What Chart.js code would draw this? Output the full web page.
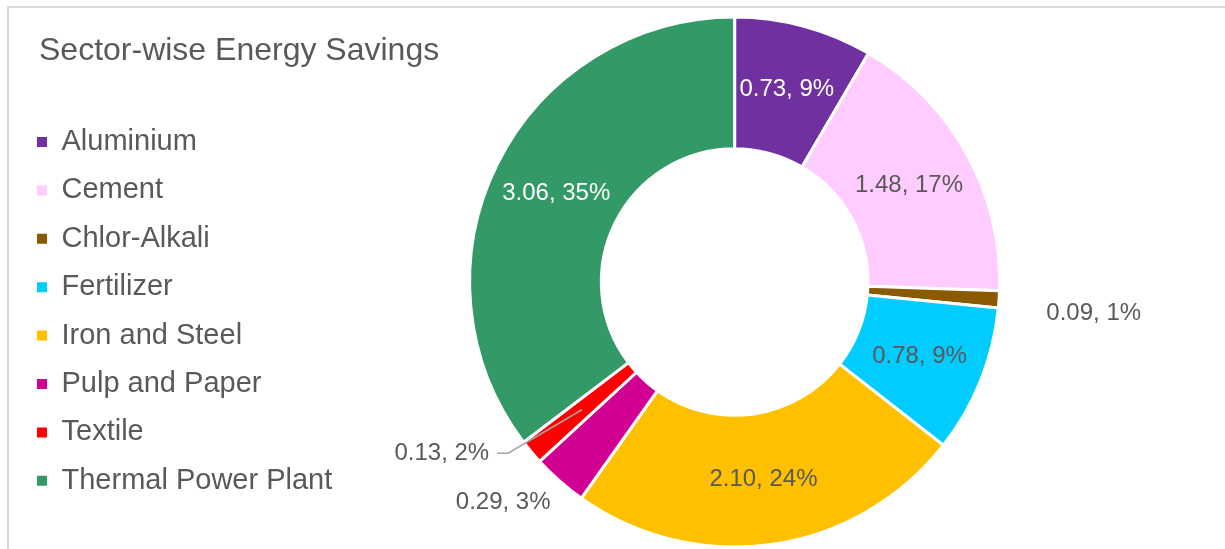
<!DOCTYPE html>
<html>
<head>
<meta charset="utf-8">
<script src="https://cdn.jsdelivr.net/npm/chart.js@4.4.1/dist/chart.umd.min.js"></script>
<style>
  html, body { margin: 0; padding: 0; background: #fff; }
  #wrap { position: relative; width: 1225px; height: 549px; overflow: hidden; }
  #frame {
    position: absolute; left: 7px; top: 6px; right: -10px; bottom: -10px;
    border-left: 2px solid #d9d9d9; border-top: 2px solid #d9d9d9;
  }
  #title {
    position: absolute; left: 39px; top: 33px;
    font: 32px/32px "Liberation Sans", Arial, sans-serif; color: #595959;
    white-space: nowrap;
  }
  canvas { position: absolute; left: 0; top: 0; }
</style>
</head>
<body>
<div id="wrap">
  <div id="frame"></div>
  <canvas id="chart" width="1225" height="549"></canvas>
  <div id="title">Sector-wise Energy Savings</div>
</div>
<script>
const sectors = ['Aluminium', 'Cement', 'Chlor-Alkali', 'Fertilizer', 'Iron and Steel', 'Pulp and Paper', 'Textile', 'Thermal Power Plant'];
const savings = [0.73, 1.48, 0.09, 0.78, 2.10, 0.29, 0.13, 3.06];
const shares = [9, 17, 1, 9, 24, 3, 2, 35];

const sliceColors = ['#7030A0', '#FFCCFF', '#8B5A00', '#00CCFF', '#FFC000', '#D10093', '#FF0000', '#339966'];
const labelColors = ['#ffffff', '#595959', '#595959', '#595959', '#595959', '#595959', '#595959', '#ffffff'];

// small slices get their label outside the ring (angle shift in degrees, distance as share of outer radius)
const outsideLabels = {
  2: { shift: 1.2, dist: 1.36, leader: false },
  5: { shift: 5.1, dist: 1.205, leader: false },
  6: { shift: 9.6, dist: 1.28, leader: true }
};

const sliceLabels = {
  id: 'sliceLabels',
  afterDatasetsDraw(chart) {
    const ctx = chart.ctx;
    const meta = chart.getDatasetMeta(0);
    ctx.save();
    ctx.font = '24px "Liberation Sans", Arial, sans-serif';
    ctx.textBaseline = 'middle';
    ctx.textAlign = 'center';
    meta.data.forEach((arc, i) => {
      const text = savings[i].toFixed(2) + ', ' + shares[i] + '%';
      const out = outsideLabels[i];
      if (!out) {
        const p = arc.tooltipPosition(true);
        ctx.fillStyle = labelColors[i];
        ctx.fillText(text, p.x, p.y);
        return;
      }
      const { x, y, startAngle, endAngle, outerRadius } = arc.getProps(['x', 'y', 'startAngle', 'endAngle', 'outerRadius'], true);
      const a = (startAngle + endAngle) / 2 + out.shift * Math.PI / 180;
      const lx = x + Math.cos(a) * outerRadius * out.dist;
      const ly = y + Math.sin(a) * outerRadius * out.dist;
      ctx.fillStyle = '#595959';
      ctx.fillText(text, lx, ly);
      if (out.leader) {
        const p = arc.tooltipPosition(true);
        const half = ctx.measureText(text).width / 2;
        ctx.strokeStyle = '#a6a6a6';
        ctx.lineWidth = 1.5;
        ctx.beginPath();
        ctx.moveTo(p.x, p.y);
        ctx.lineTo(lx + half + 19, ly);
        ctx.lineTo(lx + half + 8, ly);
        ctx.stroke();
      }
    });
    ctx.restore();
  }
};

const ctx = document.getElementById('chart').getContext('2d');
new Chart(ctx, {
  type: 'doughnut',
  data: {
    labels: sectors,
    datasets: [{
      data: savings,
      backgroundColor: sliceColors,
      borderColor: '#ffffff',
      borderWidth: 3,
      radius: 265,
      cutout: '50.3%'
    }]
  },
  options: {
    responsive: false,
    animation: false,
    layout: { padding: { top: 49.3, bottom: 34.3, left: 17.6, right: 98 } },
    plugins: {
      tooltip: { enabled: false },
      legend: {
        position: 'left',
        align: 'end',
        labels: {
          boxWidth: 10,
          boxHeight: 10,
          padding: 19.4,
          color: '#595959',
          font: { family: '"Liberation Sans", Arial, sans-serif', size: 29 },
          generateLabels(chart) {
            const items = Chart.overrides.doughnut.plugins.legend.labels.generateLabels(chart);
            return items.map(item => Object.assign(item, { lineWidth: 0, strokeStyle: item.fillStyle }));
          }
        }
      }
    }
  },
  plugins: [sliceLabels]
});
</script>
</body>
</html>
